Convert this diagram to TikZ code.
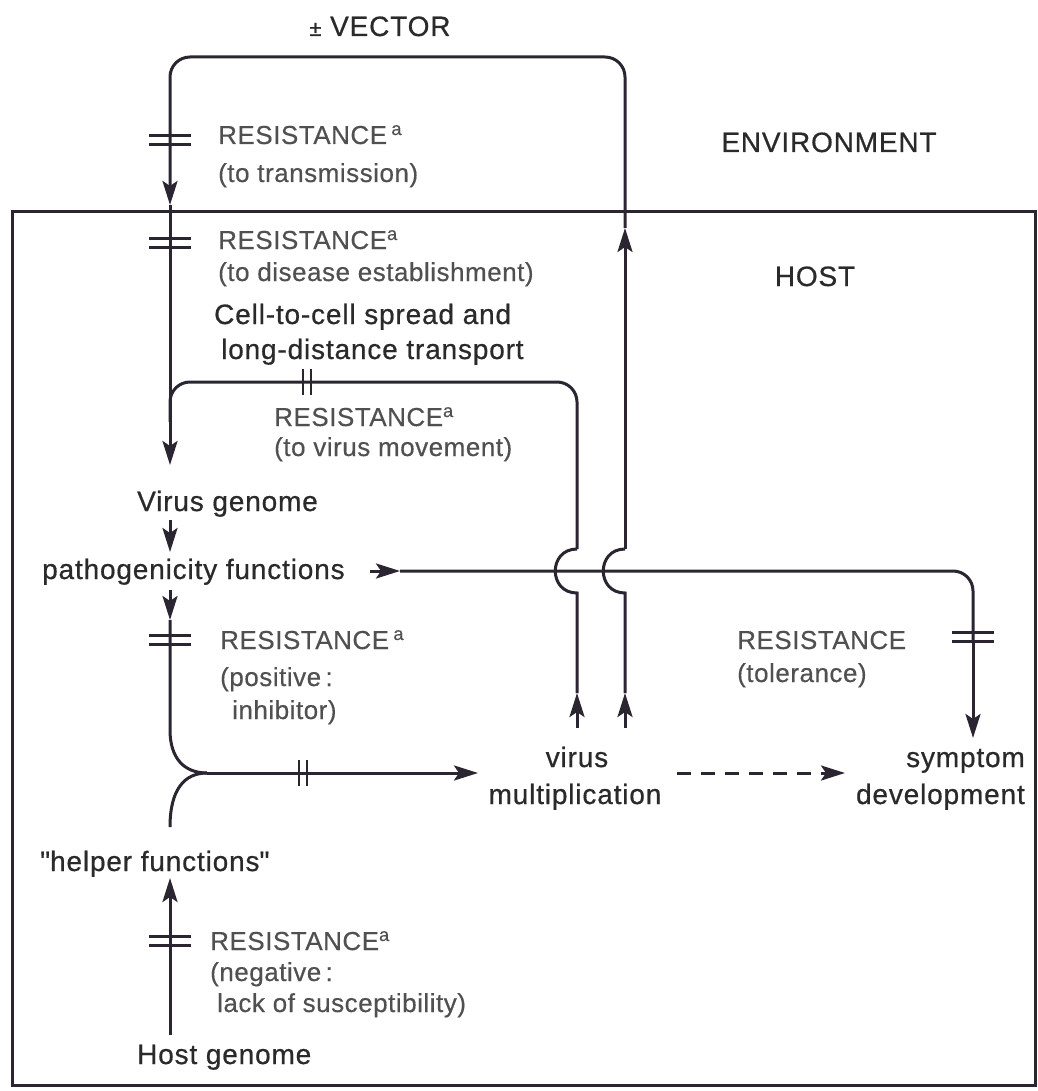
\documentclass[tikz,border=0pt]{standalone}
\usepackage{fontspec}
\setmainfont{Liberation Sans}
\usetikzlibrary{arrows.meta}
\definecolor{ink}{HTML}{2A2530}
\definecolor{txt}{HTML}{2A2A2A}
\definecolor{rtxt}{HTML}{505050}
\begin{document}
\begin{tikzpicture}[x=1pt,y=-1pt,
  lbl/.style={text=txt, font=\fontsize{28}{32}\selectfont\addfontfeature{LetterSpace=3,FakeBold=0.6}, inner sep=0pt},
  res/.style={text=rtxt, font=\fontsize{26}{30}\selectfont\addfontfeature{LetterSpace=2,FakeBold=0.4}, inner sep=0pt},
  conn/.style={draw=ink, line width=3pt},
  tip/.style={-{Stealth[length=24pt,width=15pt,inset=5pt]}},
  arr/.style={conn, tip},
  dbar/.pic={\draw[ink, line width=2.6pt] (-21,-4.5) -- (21,-4.5) (-21,4.5) -- (21,4.5);},
  vtick/.pic={\draw[ink, line width=2.6pt] (-4,-13) -- (-4,13) (4,-13) -- (4,13);}
]
\useasboundingbox (0,0) rectangle (1037,1091);
\fill[white] (0,0) rectangle (1037,1091);

% host box
\draw[conn] (12,212) rectangle (1035,1085);

% coordinates
\coordinate (TL) at (170,57);
\coordinate (TR) at (625,57);
\coordinate (envIn) at (170,205);
\coordinate (vgIn) at (170,465);
\coordinate (hostOut) at (625,228);
\coordinate (jB1) at (625,549);
\coordinate (jA1) at (625,593);
\coordinate (m2top) at (625,693);
\coordinate (m2bot) at (625,728);
\coordinate (jB2) at (577,549);
\coordinate (jA2) at (577,593);
\coordinate (m1top) at (577,693);
\coordinate (m1bot) at (577,728);
\coordinate (mvR) at (577,382);
\coordinate (mvL) at (170,382);
\coordinate (pfS) at (370,571);
\coordinate (pfE) at (400,571);
\coordinate (pfR) at (973,571);
\coordinate (tolM) at (973,640);
\coordinate (sympIn) at (973,738);
\coordinate (vgOut) at (170,520);
\coordinate (pfIn) at (170,552);
\coordinate (pfOut) at (170,590);
\coordinate (posA) at (170,620);
\coordinate (posB) at (170,730);
\coordinate (junc) at (207,773);
\coordinate (hfOut) at (170,827);
\coordinate (vmIn) at (478,773);
\coordinate (hfIn) at (170,878);
\coordinate (hgOut) at (170,1035);
\coordinate (dashS) at (677,773);
\coordinate (dashE) at (845,773);

% texts
\node[lbl, anchor=base] (vector) at (380,36) {{\fontsize{22}{26}\selectfont ±} VECTOR};
\node[res, anchor=base west] (r1a) at (218,144) {RESISTANCE\,\textsuperscript{a}};
\node[res, anchor=base west] (r1b) at (218,182) {(to transmission)};
\node[lbl, anchor=base] (env) at (829,152) {ENVIRONMENT};
\node[res, anchor=base west] (r2a) at (218,249) {RESISTANCE\textsuperscript{a}};
\node[res, anchor=base west] (r2b) at (218,281) {(to disease establishment)};
\node[lbl, anchor=base] (host) at (815,286) {HOST};
\node[lbl, anchor=base west] (cc1) at (214,324) {Cell-to-cell spread and};
\node[lbl, anchor=base west] (cc2) at (221,359) {long-distance transport};
\node[res, anchor=base west] (r3a) at (274,426) {RESISTANCE\textsuperscript{a}};
\node[res, anchor=base west] (r3b) at (274,456) {(to virus movement)};
\node[lbl, anchor=base west] (vg) at (137,511) {Virus genome};
\node[lbl, anchor=base west] (pf) at (42,579) {pathogenicity functions};
\node[res, anchor=base west] (r4a) at (220,649) {RESISTANCE\,\textsuperscript{a}};
\node[res, anchor=base west] (r4b) at (220,686) {(positive\,:};
\node[res, anchor=base west] (r4c) at (232,719) {inhibitor)};
\node[res, anchor=base west] (r5a) at (737,649) {RESISTANCE};
\node[res, anchor=base west] (r5b) at (737,682) {(tolerance)};
\node[lbl, anchor=base] (vm1) at (577,767) {virus};
\node[lbl, anchor=base] (vm2) at (575,804) {multiplication};
\node[lbl, anchor=base east] (sd1) at (1025,767) {symptom};
\node[lbl, anchor=base east] (sd2) at (1025,804) {development};
\node[lbl, anchor=base west] (hf) at (40,871) {\textquotedbl helper functions\textquotedbl};
\node[res, anchor=base west] (r6a) at (210,950) {RESISTANCE\textsuperscript{a}};
\node[res, anchor=base west] (r6b) at (210,981) {(negative\,:};
\node[res, anchor=base west] (r6c) at (217,1012) {lack of susceptibility)};
\node[lbl, anchor=base west] (hg) at (137,1064) {Host genome};

% vector loop
\draw[conn, rounded corners=20pt, tip] (hostOut) -- (TR) -- (TL) -- (envIn);
\draw[arr] (envIn) -- (vgIn);
\draw[arr] (m2bot) -- (m2top);
\draw[conn] (m2top) -- (jA1) .. controls (596,593) and (596,549) .. (jB1);
\draw[arr] (jB1) -- (hostOut);

% movement loop
\draw[arr] (m1bot) -- (m1top);
\draw[conn] (m1top) -- (jA2) .. controls (548,593) and (548,549) .. (jB2);
\draw[conn, rounded corners=20pt] (jB2) -- (mvR) -- (mvL) -- ([yshift=-40pt]mvL);

% pathogenicity line
\draw[arr] (pfS) -- (pfE);
\draw[conn, rounded corners=20pt] (pfE) -- (pfR) -- (tolM);
\draw[arr] (tolM) -- (sympIn);

% left chain
\draw[arr] (vgOut) -- (pfIn);
\draw[arr] (pfOut) -- (posA);
\draw[conn] (posA) -- (posB) .. controls (170,758) and (184,773) .. (junc);
\draw[conn] (hfOut) .. controls (170,790) and (184,773) .. (junc);
\draw[arr] (junc) -- (vmIn);
\draw[arr] (hgOut) -- (hfIn);
\draw[conn, dash pattern=on 14pt off 10pt, tip] (dashS) -- (dashE);

% resistance bars
\pic at (170,140) {dbar};
\pic at (170,243) {dbar};
\pic at (170,640) {dbar};
\pic at (170,941) {dbar};
\pic at (973,637) {dbar};
\pic at (307,382) {vtick};
\pic at (303,773) {vtick};
\end{tikzpicture}
\end{document}
